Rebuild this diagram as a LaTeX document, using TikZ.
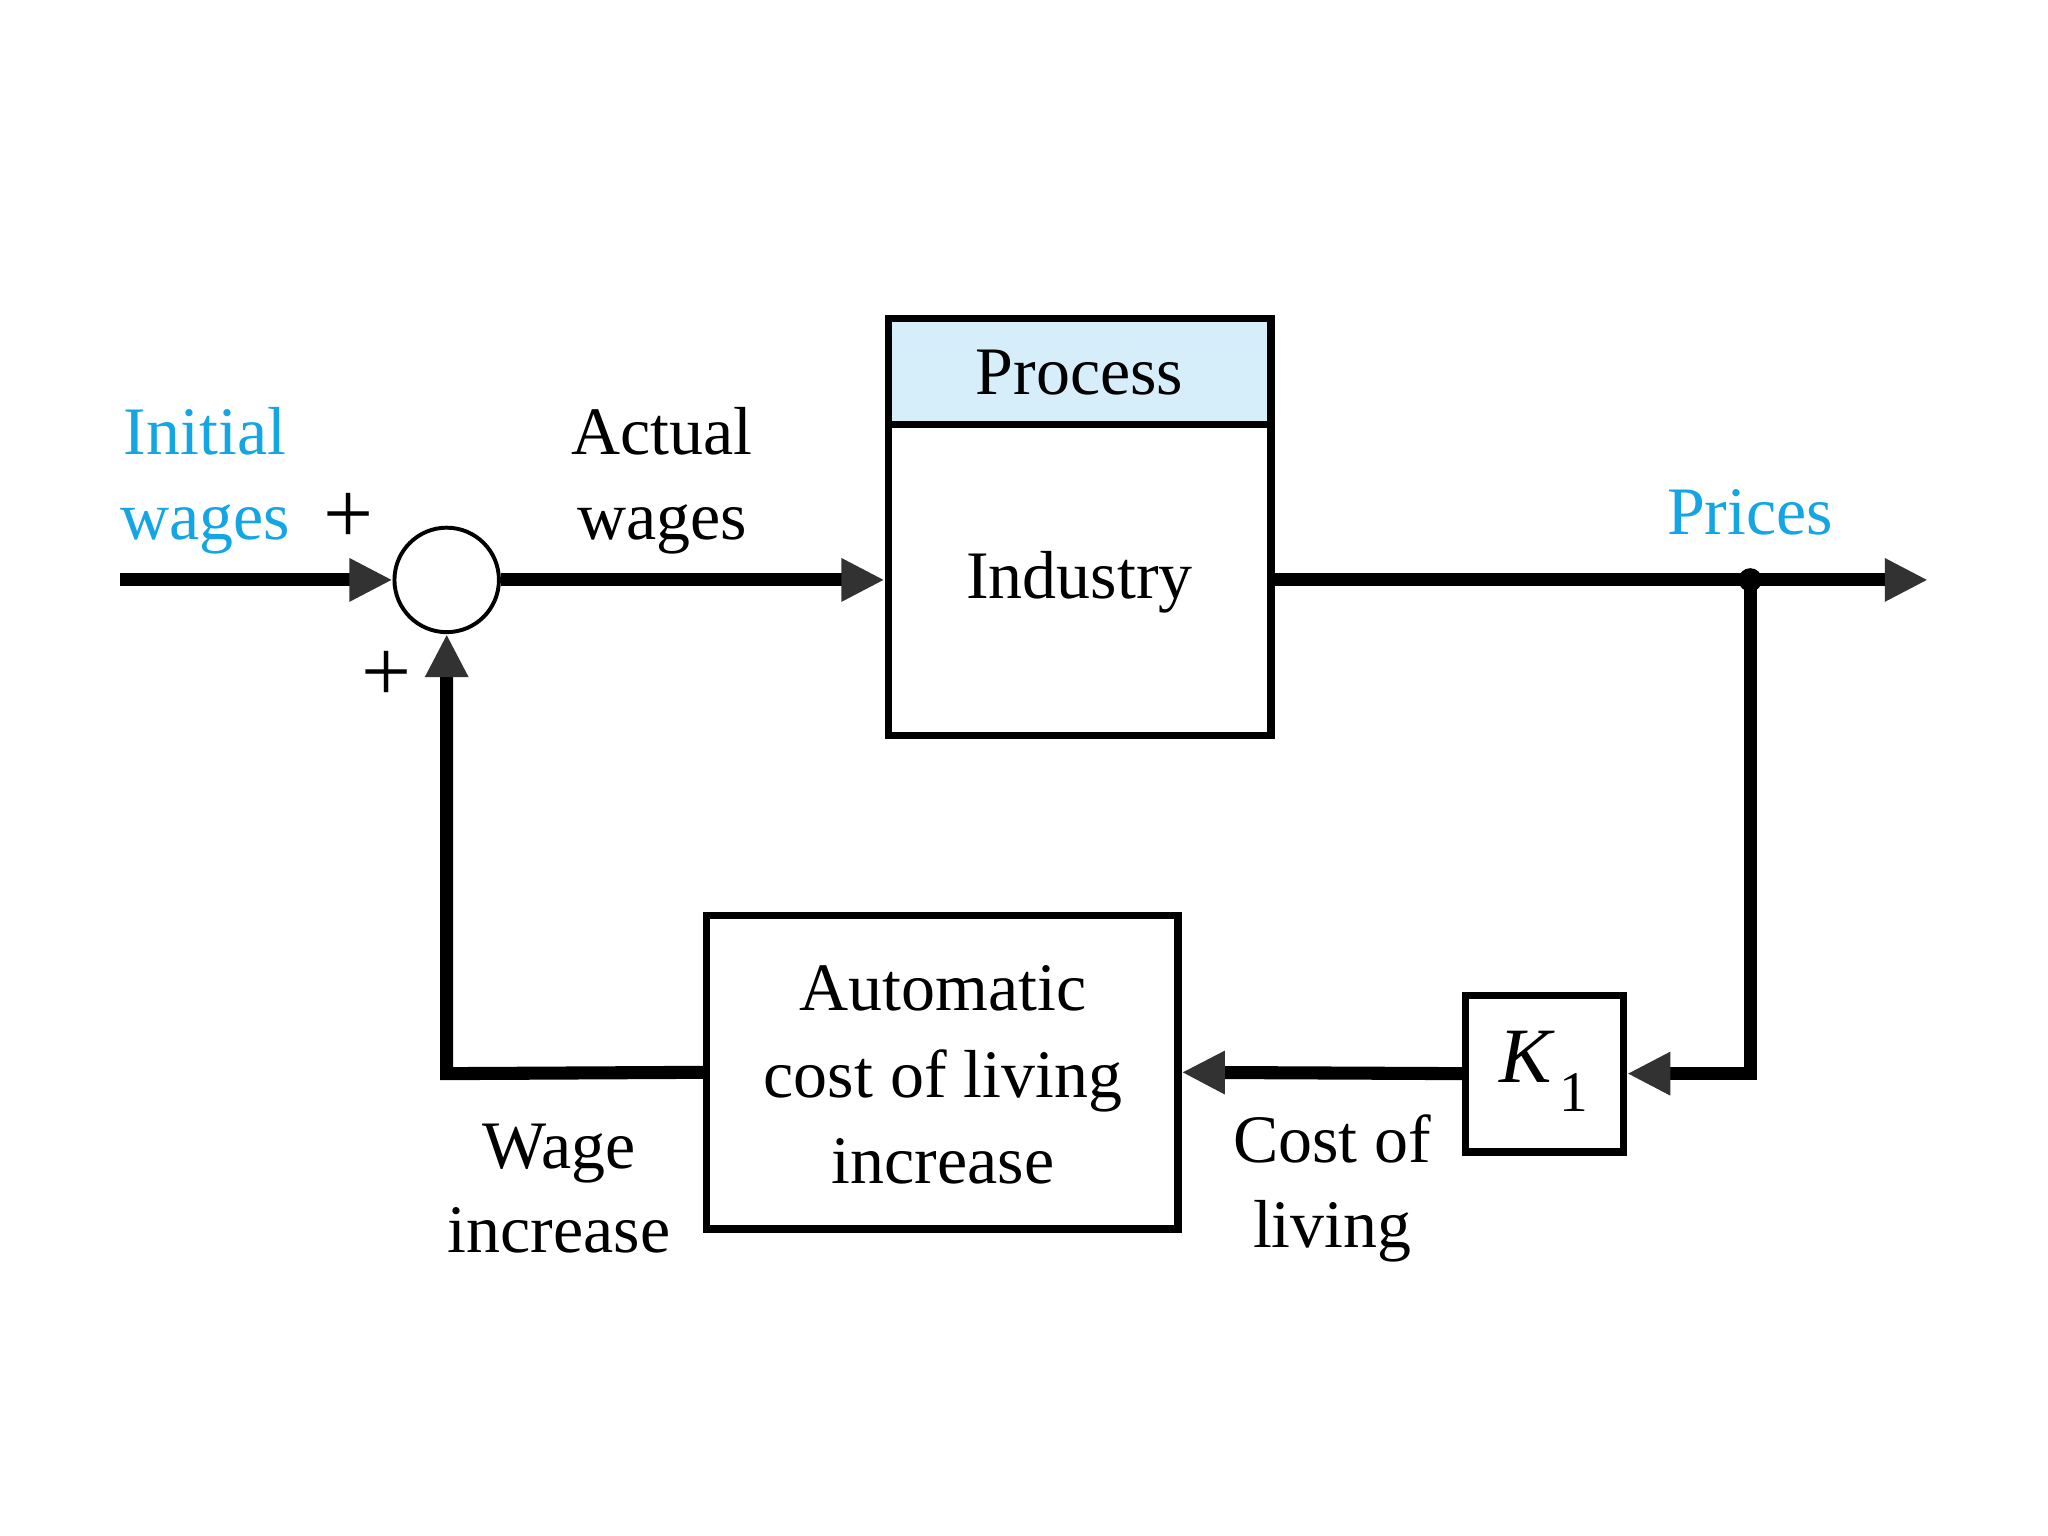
\documentclass[tikz,border=0pt]{standalone}
\usepackage{fontspec}
\setmainfont{Liberation Serif}
\usetikzlibrary{arrows.meta,calc}
\definecolor{labblue}{RGB}{20,165,228}
\definecolor{hdrblue}{RGB}{214,238,250}
\definecolor{tipgray}{RGB}{50,50,50}
\begin{document}
\begin{tikzpicture}[x=0.5pt,y=-0.5pt,
  wire/.style={line width=5pt,black},
  tip/.style={-{Triangle[length=16.5pt,width=15.5pt,color=tipgray,fill=tipgray]}},
  blk/.style={draw,line width=2.8pt,inner sep=0pt},
  lab/.style={align=center,inner sep=0pt,font=\fontsize{26}{32.5}\selectfont},
  blu/.style={lab,text=labblue},
  plus/.style={inner sep=0pt,font=\fontsize{34}{34}\selectfont}]
\useasboundingbox (0,0) rectangle (1568,1176);
% blocks
\fill[hdrblue] (680,244) rectangle (973,325);
\node[blk,minimum width=146.5pt,minimum height=159.5pt] (proc) at (826.5,403.5) {};
\draw[line width=2.8pt] (680,325) -- (973,325);
\node[lab] (ptitle) at (826.5,285) {Process};
\node[lab] (pind) at (826.5,446) {Industry};
\node[draw,circle,line width=1.5pt,minimum size=40pt,inner sep=0pt] (sum) at (342,444) {};
\node[blk,minimum width=60.5pt,minimum height=60pt] (k1) at (1182.5,822) {};
\node[lab] (k1t) at (1182,820) {\fontsize{30}{30}\selectfont\textit{K}\hspace{2pt}\raisebox{-11pt}{\fontsize{22}{22}\selectfont 1}};
\node[blk,minimum width=180.5pt,minimum height=120pt] (auto) at (721.5,821) {};
\node[lab,font=\fontsize{26}{33}\selectfont] (autot) at (722,823) {Automatic\\cost of living\\increase};
% connectors
\coordinate (in) at (92,444);
\coordinate (out) at (1476,444);
\coordinate (br) at (1340,444);
\coordinate (c1) at (1340,822);
\coordinate (c2) at (342,822);
\draw[wire,tip] (in) -- (sum.west);
\draw[wire,tip] (sum.east) -- (sum.east -| proc.west);
\draw[wire,tip] (sum.east -| proc.east) -- (out);
\fill (br) circle (4.5pt);
\draw[wire,tip] (br) -- (c1) -- (k1.east);
\draw[wire,tip] (k1.west) -- (auto.east);
\draw[wire,tip] (auto.west) -- (c2) -- (sum.south);
% labels
\node[blu] (li) at (157,368) {Initial\\wages};
\node[plus] (p1) at (267,397) {+};
\node[plus] (p2) at (296,518) {+};
\node[lab] (la) at (507,368) {Actual\\wages};
\node[blu] (lp) at (1340,392) {Prices};
\node[lab] (lw) at (428,910) {Wage\\increase};
\node[lab] (lc) at (1020,910) {Cost of\\living};
\end{tikzpicture}
\end{document}
